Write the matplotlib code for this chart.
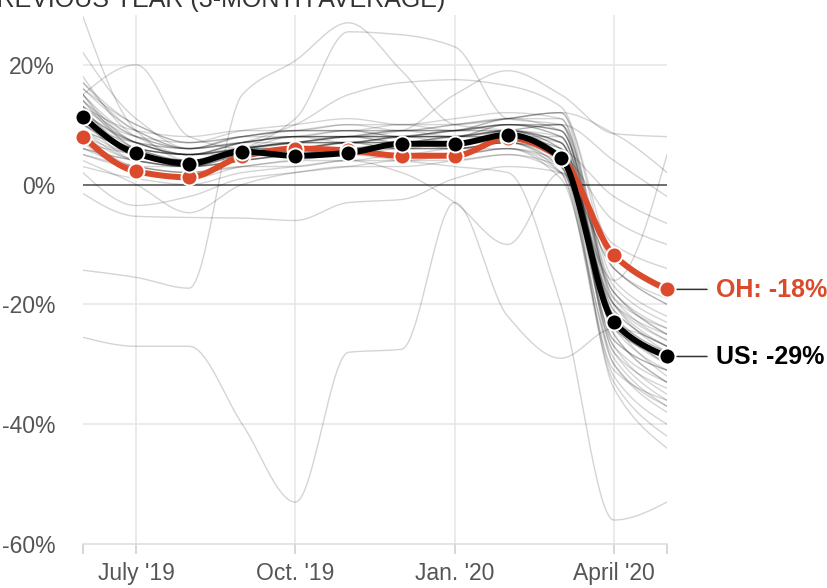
import numpy as np
import matplotlib
matplotlib.use("Agg")
import matplotlib.pyplot as plt

plt.rcParams['font.family'] = ['Liberation Sans', 'DejaVu Sans']

months = ["Jun '19", "Jul '19", "Aug '19", "Sep '19", "Oct '19", "Nov '19",
          "Dec '19", "Jan '20", "Feb '20", "Mar '20", "Apr '20", "May '20"]
tick_months = [1, 4, 7, 10]
tick_labels = ["July '19", "Oct. '19", "Jan. '20", "April '20"]

us = [11.3, 5.2, 3.5, 5.5, 4.8, 5.3, 6.8, 6.8, 8.3, 4.5, -23.0, -28.7]
oh = [8.0, 2.2, 1.2, 4.7, 6.0, 5.7, 4.8, 4.8, 7.8, 4.5, -11.8, -17.5]

# other states
states = [
    [14, 7, 5, 7, 8, 9, 8, 9, 10, 9, -22, -30],
    [12, 6, 4, 6, 7, 8, 9, 8, 9, 6, -25, -33],
    [17, 9, 6, 8, 9, 10, 10, 10, 11, 12, -20, -28],
    [10, 5, 3, 5, 6, 6, 7, 7, 8, 5, -28, -36],
    [15, 8, 6, 7, 8, 7, 8, 9, 10, 8, -18, -24],
    [9, 4, 3, 4, 5, 5, 6, 6, 7, 3, -30, -38],
    [13, 8, 7, 8, 9, 9, 8, 8, 9, 10, -16, -22],
    [11, 5, 4, 6, 6, 7, 7, 8, 8, 4, -26, -31],
    [16, 10, 7, 9, 10, 11, 10, 11, 12, 11, -21, -27],
    [8, 3, 2, 3, 4, 4, 5, 5, 6, 2, -32, -40],
    [18, 8, 5, 6, 7, 8, 9, 9, 10, 9, -19, -26],
    [12, 7, 6, 7, 7, 8, 8, 7, 8, 7, -24, -29],
    [14, 6, 4, 5, 6, 6, 7, 7, 9, 6, -27, -35],
    [10, 6, 5, 6, 7, 7, 6, 7, 7, 5, -23, -32],
    [7, 2, 1, 3, 4, 5, 5, 5, 6, 1, -29, -37],
    [13, 9, 8, 9, 9, 10, 9, 10, 11, 12, -14, -19],
    [15, 7, 5, 7, 8, 8, 8, 8, 10, 8, -22, -28],
    [11, 4, 3, 5, 6, 7, 6, 6, 7, 3, -31, -36],
    [9, 6, 5, 5, 6, 6, 7, 6, 7, 4, -20, -25],
    [16, 9, 6, 8, 8, 9, 9, 9, 10, 10, -25, -33],
    [12, 5, 4, 6, 7, 7, 8, 8, 9, 7, -28, -34],
    [6, 3, 2, 4, 5, 6, 6, 6, 7, 2, -33, -42],
    [14, 8, 6, 8, 9, 9, 10, 9, 11, 9, -17, -23],
    [10, 7, 6, 7, 8, 8, 7, 8, 8, 6, -21, -27],
    [13, 5, 3, 5, 6, 7, 7, 7, 8, 5, -26, -31],
    [11, 6, 5, 6, 7, 7, 8, 8, 8, 8, -24, -29],
    [17, 10, 7, 8, 9, 9, 9, 10, 11, 11, -19, -24],
    [8, 4, 3, 4, 5, 6, 5, 6, 6, 3, -27, -33],
    [12, 7, 5, 7, 8, 8, 8, 9, 9, 7, -23, -30],
    [15, 6, 4, 6, 7, 8, 8, 8, 10, 10, -30, -37],
    [28, 9, 4, 6, 7, 8, 8, 9, 9, 8, -24, -31],
    [22, 11, 6, 7, 8, 8, 9, 9, 10, 9, -20, -27],
    [15, 20, 8, 6, 7, 8, 7, 8, 9, 7, -22, -28],
    [-14.3, -15.5, -17.3, 15, 20.7, 27, 19, 10, 9, 7, -22, -30],
    [9, 5, 4, 6, 11, 25.5, 25, 23, 11, 10, -18, -25],
    [10, 6, 5, 6, 8, 8, 9, 15, 19, 15, 8.5, 8],
    [12, 7, 5, 7, 10, 15, 17, 17.5, 16.5, 13, -12, -18],
    [-25.5, -27, -27, -40, -53, -28, -27.5, -3, -22, -29, -24, -27],
    [-1.5, -5.3, -5.5, -5.6, -6, -3, -2.5, 1, 3, 2, -14, -20],
    [2, -3.5, -2, 1, 2, 3, 4, 4, 5, 3, -20, -26],
    [4, 0, -4.7, 0, 2, 3, 3, 4, 5, 2, -18, -25],
    [6, 4, 3, 4, 5, 5, 4, 3, 2, -20, -56, -53],
    [7, 5, 4, 5, 6, 7, 8, 9, 11, 12, 8.5, 2],
    [5, 3, 3, 4, 5, 6, 7, 8, 9, 10, 4, -2],
    [9, 6, 5, 6, 6, 7, 7, 7, 8, 6, -2, -6.5],
    [6, 4, 3, 5, 5, 6, 6, 6, 7, 5, -6, -10],
    [8, 5, 4, 6, 6, 7, 7, 7, 8, 4, -16, 5],
    [5, 3, 2, 3, 3, 4, 2, -3, -10, 2, -14, -20],
    [3, 1, 0, 2, 3, 4, 4, 5, 6, 4, -10, -14],
    [13, 7, 5, 6, 7, 7, 8, 8, 9, 5, -34, -44],
]

RED = '#db4a2b'


def monotone(y, n=30):
    # monotone cubic (like d3.curveMonotoneX) for drawing the line
    y = np.asarray(y, float)
    x = np.arange(len(y), dtype=float)
    d = np.diff(y)
    m = np.zeros_like(y)
    for k in range(1, len(y) - 1):
        if d[k - 1] * d[k] > 0:
            m[k] = 2.0 / (1.0 / d[k - 1] + 1.0 / d[k])
    m[0] = (3 * d[0] - m[1]) / 2
    m[-1] = (3 * d[-1] - m[-2]) / 2
    xs, ys = [], []
    for k in range(len(y) - 1):
        t = np.linspace(0, 1, n, endpoint=(k == len(y) - 2))
        h00 = 2 * t**3 - 3 * t**2 + 1
        h10 = t**3 - 2 * t**2 + t
        h01 = -2 * t**3 + 3 * t**2
        h11 = t**3 - t**2
        xs.append(x[k] + t)
        ys.append(h00 * y[k] + h10 * m[k] + h01 * y[k + 1] + h11 * m[k + 1])
    return np.concatenate(xs), np.concatenate(ys)


fig = plt.figure(figsize=(8.28, 5.88), dpi=100)
ax = fig.add_axes([83 / 828, 44 / 588, 584 / 828, 529 / 588])

x = np.arange(len(months))
ax.set_xlim(0, len(months) - 1)
ax.set_ylim(-60, 28.3)

# grid
for g in [20, -20, -40]:
    ax.axhline(g, color='#e6e6e6', lw=1.1, zorder=0)
for t in tick_months:
    ax.axvline(t, color='#e6e6e6', lw=1.1, zorder=0)
ax.axhline(0, color='#555555', lw=1.2, zorder=1)

for s in states:
    sx, sy = monotone(s)
    ax.plot(sx, sy, color='black', alpha=0.17, lw=1.0, zorder=2)

for vals, col in [(oh, RED), (us, 'black')]:
    sx, sy = monotone(vals)
    ax.plot(sx, sy, color=col, lw=4.3, zorder=3, solid_capstyle='round')
    ax.plot(x, vals, 'o', color=col, ms=11.5, mec='white', mew=1.4,
            zorder=4, clip_on=False)

for vals, lab, col in [(oh, 'OH: -18%', RED), (us, 'US: -29%', 'black')]:
    ax.annotate('', xy=(x[-1], vals[-1]), xytext=(40, 0),
                textcoords='offset pixels',
                arrowprops=dict(arrowstyle='-', color='#333333', lw=1.1,
                                shrinkA=0, shrinkB=7))
    ax.annotate(lab, xy=(x[-1], vals[-1]), xytext=(49, -1),
                textcoords='offset pixels', ha='left', va='center',
                fontsize=18, fontweight='bold', color=col)

for sp in ['top', 'right', 'left']:
    ax.spines[sp].set_visible(False)
ax.spines['bottom'].set_color('#dddddd')
ax.spines['bottom'].set_linewidth(1.1)

ax.set_xticks([0, 11], minor=True)
ax.set_xticks(tick_months)
ax.set_xticklabels(tick_labels)
ax.tick_params(axis='x', which='both', length=7, width=1.1, color='#cccccc',
               labelsize=16.5, labelcolor='#555555', pad=6)
ax.set_yticks([20, 0, -20, -40, -60])
ax.set_yticklabels(['20%', '0%', '-20%', '-40%', '-60%'])
ax.tick_params(axis='y', length=0, labelsize=16.5, labelcolor='#555555', pad=20)

fig.text(445 / 828, 1 - 7 / 588, 'PREVIOUS YEAR (3-MONTH AVERAGE)',
         ha='right', va='baseline', fontsize=18, color='#333333')

fig.savefig('out.png', dpi=100)
